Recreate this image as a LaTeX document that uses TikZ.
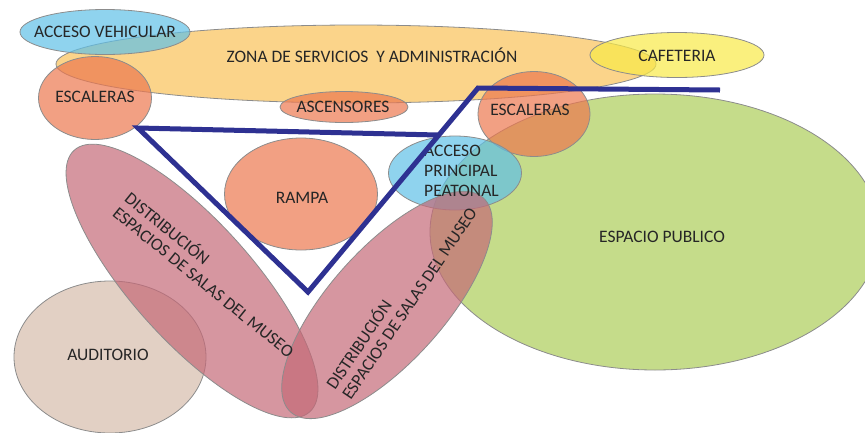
\documentclass[tikz,border=0pt]{standalone}
\usepackage{fontspec}
\setmainfont{Carlito}
\usetikzlibrary{shapes.geometric}
\definecolor{cBlue}{HTML}{5FC0E7}
\definecolor{cZona}{HTML}{F9C259}
\definecolor{cYel}{HTML}{F8EA47}
\definecolor{cSal}{HTML}{EC774E}
\definecolor{cGreen}{HTML}{ACCD58}
\definecolor{cPink}{HTML}{C46977}
\definecolor{cBeige}{HTML}{D6BCAB}
\definecolor{cLine}{HTML}{2E3192}
\tikzset{
  blob/.style={ellipse, draw=black!45, line width=0.8pt, fill opacity=0.7, inner sep=0pt, outer sep=0pt},
  lbl/.style={font=\fontsize{17.5}{20}\selectfont, text=black!85, inner sep=0pt},
  thick line/.style={draw=cLine, line width=5pt, line join=miter}
}
\begin{document}
\begin{tikzpicture}[x=1pt,y=-1pt]
\useasboundingbox (0,0) rectangle (865,432);
\node[blob, fill=cGreen, minimum width=450, minimum height=276] (pub) at (655,232) {};
\node[blob, fill=cZona, minimum width=600, minimum height=78] (zona) at (356,64) {};
\node[blob, fill=cBlue, minimum width=170, minimum height=45] (veh) at (105,32) {};
\node[blob, fill=cYel, minimum width=174, minimum height=45] (caf) at (677,55) {};
\node[blob, fill=cSal, minimum width=113, minimum height=83] (esc1) at (95,98) {};
\node[blob, fill=cSal, minimum width=128, minimum height=31] (asc) at (344,107) {};
\node[blob, fill=cSal, minimum width=112, minimum height=85] (esc2) at (534,114) {};
\node[blob, fill=cSal, minimum width=153, minimum height=112] (ramp) at (301,194) {};
\node[blob, fill=cBlue, minimum width=133, minimum height=74] (acc) at (455,173) {};
\node[blob, fill=cBeige, minimum width=192, minimum height=152] (aud) at (110,357) {};
\node[blob, fill=cPink, minimum width=352, minimum height=120, rotate=-48] (dist1) at (192,281) {};
\node[blob, fill=cPink, minimum width=288, minimum height=114, rotate=48] (dist2) at (387,305) {};
% labels
\node[lbl] (tveh) at (105,32) {ACCESO VEHICULAR};
\node[lbl] (tzona) at (372,55) {ZONA DE SERVICIOS \ Y ADMINISTRACIÓN};
\node[lbl] (tcaf) at (677,56) {CAFETERIA};
\node[lbl] (tesc1) at (95,97) {ESCALERAS};
\node[lbl] (tasc) at (343,107) {ASCENSORES};
\node[lbl] (tesc2) at (530,110) {ESCALERAS};
\node[lbl] (tramp) at (302,198) {RAMPA};
\node[lbl, align=left, anchor=west] (tacc) at (424,171) {ACCESO\\PRINCIPAL\\PEATONAL};
\node[lbl] (tpub) at (662,237) {ESPACIO PUBLICO};
\node[lbl] (taud) at (108,355) {AUDITORIO};
\node[lbl, anchor=west, rotate=-39] (td1a) at (128,195) {DISTRIBUCIÓN};
\node[lbl, anchor=west, rotate=-39] (td1b) at (115,211) {ESPACIOS DE SALAS DEL MUSEO};
\node[lbl, anchor=west, rotate=56] (td2a) at (329,387) {DISTRIBUCIÓN};
\node[lbl, anchor=west, rotate=56] (td2b) at (346,398) {ESPACIOS DE SALAS DEL MUSEO};
% blue line
\coordinate (b1) at (438,135);
\coordinate (b2) at (138,128);
\coordinate (b3) at (308,292);
\coordinate (b4) at (478,88);
\coordinate (b5) at (720,90);
\draw[thick line] (b1) -- (b2) -- (b3) -- (b4) -- (b5);
\end{tikzpicture}
\end{document}
